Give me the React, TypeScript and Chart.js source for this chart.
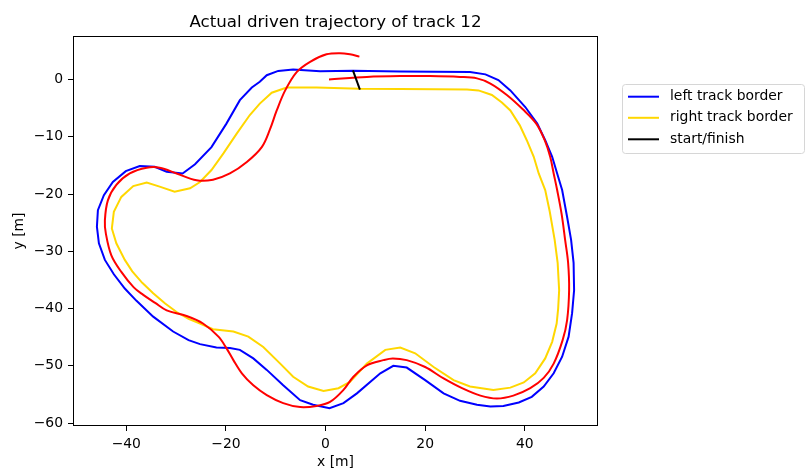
import React, { useEffect, useRef } from "react";
import { Chart, registerables } from "chart.js";

Chart.register(...registerables);

const TITLE = "Actual driven trajectory of track 12";
const X_LABEL = "x [m]";
const Y_LABEL = "y [m]";
const X_TICKS = [-40, -20, 0, 20, 40];
const Y_TICKS = [0, -10, -20, -30, -40, -50, -60];
const X_MIN = -50.7;
const X_MAX = 54.7;
const Y_MIN = -60.5;
const Y_MAX = 7.6;

const LEGEND_LABELS = ["left track border", "right track border", "start/finish"];

const LEFT_BORDER: [number, number][] = [
  [5.5, 1.55], [15, 1.4], [22, 1.35], [29, 1.3], [32.1, 0.9], [34.7, -0.1],
  [37.1, -1.9], [40.1, -4.8], [42.5, -7.7], [44.1, -10.6], [45.5, -13.5],
  [46.5, -16.4], [47.5, -19.3], [48.5, -24], [49.3, -28.0], [49.8, -32], [49.9, -36.8],
  [49.5, -40.8], [48.8, -44.9], [47.5, -48.4], [45.8, -51.3], [43.8, -53.6], [41.4, -55.4],
  [38.8, -56.4], [35.7, -57.0], [33.1, -57.1], [30.4, -56.8], [27, -56.1],
  [23.7, -54.8], [20, -52.5], [16.3, -50.3], [13.6, -50.0], [11, -51.3],
  [6.3, -54.8], [3.6, -56.5], [0.8, -57.4], [-2.5, -56.8], [-5.1, -56.0],
  [-8.5, -53.4], [-11.8, -50.7], [-14.5, -48.7], [-17.2, -47.2], [-19.2, -46.9],
  [-21.9, -46.8], [-25.2, -46.2], [-27.5, -45.5], [-30.6, -44.0], [-34.6, -41.4],
  [-38.0, -38.6], [-40.3, -36.5], [-42.5, -34.0], [-44.3, -31.5], [-45.5, -28.6],
  [-45.9, -25.7], [-45.7, -22.8], [-44.5, -20.2], [-42.7, -17.9], [-40.1, -16.0],
  [-37.3, -15.1], [-34.3, -15.25], [-31.9, -16.1], [-28.7, -16.4], [-26.2, -14.8],
  [-22.9, -11.8], [-19.9, -7.7], [-17.2, -3.6], [-14.8, -1.4], [-13.2, -0.4],
  [-11.8, 0.75], [-9.5, 1.5], [-6.5, 1.75], [-1.1, 1.45], [5.5, 1.55],
];

const RIGHT_BORDER: [number, number][] = [
  [6.9, -1.6], [15, -1.65], [22, -1.7], [28.4, -1.75], [30.7, -1.9], [33.4, -2.7],
  [35.4, -4.0], [37.1, -5.4], [39.0, -8.0], [40.4, -10.6], [41.8, -13.5],
  [42.8, -16.4], [44.1, -19.3], [45.0, -23], [46.0, -28.0], [46.6, -32], [46.9, -36.8],
  [46.7, -40], [46.4, -42.6], [45.5, -45.8], [44.1, -48.7], [42.1, -51.3], [39.8, -52.9],
  [37.1, -53.8], [33.7, -54.2], [29, -53.6], [25.7, -52.5], [21.7, -50.2],
  [18, -47.8], [15, -46.8], [12, -47.2], [8.3, -49.6], [4.9, -52.8],
  [2.6, -53.9], [-0.4, -54.4], [-3.5, -53.6], [-6.5, -51.9], [-9.1, -49.6],
  [-12.5, -46.7], [-15.5, -44.9], [-18.5, -44.0], [-22.6, -43.6], [-25.2, -42.6],
  [-27.5, -41.8], [-29.9, -40.6], [-32.2, -39.1], [-34.6, -37.3], [-36.8, -35.5],
  [-38.8, -33.5], [-40.3, -31.5], [-42, -28.6], [-42.9, -26.0], [-42.5, -23.1],
  [-41, -20.5], [-38.6, -18.6], [-35.9, -18.0], [-33.3, -18.7], [-30.3, -19.6],
  [-27.2, -19.0], [-25.2, -17.9], [-22.9, -15.8], [-20.5, -12.9], [-17.8, -9.4],
  [-15.2, -6.2], [-13.2, -4.2], [-10.8, -2.3], [-7.8, -1.4], [-1.8, -1.4], [6.9, -1.6],
];

const START_FINISH: [number, number][] = [
  [5.5, 1.6], [6.9, -1.75],
];

const TRAJECTORY: [number, number][] = [
  [0.7, 0.0], [8.3, 0.45], [15, 0.6], [21, 0.6], [27, 0.45], [30.4, 0.2],
  [33.1, -0.7], [36.4, -2.7], [39.6, -5.2], [42.3, -7.7], [44.0, -10.6],
  [45.1, -13.5], [45.8, -16.4], [46.5, -19.3], [47.4, -23.5], [48.1, -28], [48.7, -32],
  [48.9, -36.8], [48.5, -42], [47.6, -45.5], [45.8, -49.6], [43.8, -52.1], [41.1, -53.9],
  [37.7, -55.2], [34.4, -55.7], [31.1, -55.2], [27.4, -53.9], [23.7, -52.2],
  [20, -50.2], [16.3, -49], [13.5, -48.7], [11.6, -49.0], [8.3, -49.9],
  [5.6, -51.9], [3.6, -54.2], [0.9, -56.3], [-1.8, -57.0], [-5.1, -57.2],
  [-8.5, -56.5], [-11.8, -55.1], [-14.5, -53.4], [-16.8, -51.3], [-18.5, -49.0],
  [-19.9, -46.9], [-21.5, -44.9], [-24.6, -42.6], [-27.9, -41.3], [-31.9, -40.3],
  [-34.2, -39.0], [-36.6, -37.6], [-38.5, -36.3], [-41, -33.6], [-43, -30.7],
  [-44.1, -26.9], [-44.3, -24.6], [-43.7, -21.1], [-42, -18.4], [-39.3, -16.4],
  [-35.9, -15.4], [-33.3, -15.4], [-29.9, -16.4], [-25.9, -17.6], [-22.6, -17.5],
  [-19.2, -16.4], [-15.8, -14.4], [-12.8, -11.8], [-11.2, -8.8], [-9.8, -5.4],
  [-8.1, -1.9], [-5.8, 1.3], [-3.1, 3.1], [0.2, 4.4], [2.9, 4.6], [4.9, 4.4], [6.8, 4.0],
];

const FONT = '"DejaVu Sans", sans-serif';
const toPts = (arr: [number, number][]) => arr.map(([x, y]) => ({ x, y }));
const fmt = (v: number) => (v < 0 ? "\u2212" + Math.abs(v) : String(v));

const decorPlugin = {
  id: "decor",
  afterDatasetsDraw(chart: any) {
    const { ctx, chartArea: a } = chart;
    ctx.save();
    ctx.strokeStyle = "#000";
    ctx.lineWidth = 1;
    const l = Math.round(a.left) + 0.5;
    const t = Math.round(a.top) + 0.5;
    const r = Math.round(a.right) - 0.5;
    const b = Math.round(a.bottom) - 0.5;
    ctx.strokeRect(l, t, r - l, b - t);
    ctx.restore();
  },
  afterDraw(chart: any) {
    const { ctx, chartArea: a } = chart;
    ctx.save();
    ctx.fillStyle = "#000";
    ctx.font = `16.67px ${FONT}`;
    ctx.textAlign = "center";
    ctx.textBaseline = "alphabetic";
    ctx.fillText(TITLE, (a.left + a.right) / 2, 27);

    const bx = 622.5, by = 84.5, bw = 182, bh = 69, rad = 3;
    ctx.beginPath();
    ctx.moveTo(bx + rad, by);
    ctx.lineTo(bx + bw - rad, by);
    ctx.quadraticCurveTo(bx + bw, by, bx + bw, by + rad);
    ctx.lineTo(bx + bw, by + bh - rad);
    ctx.quadraticCurveTo(bx + bw, by + bh, bx + bw - rad, by + bh);
    ctx.lineTo(bx + rad, by + bh);
    ctx.quadraticCurveTo(bx, by + bh, bx, by + bh - rad);
    ctx.lineTo(bx, by + rad);
    ctx.quadraticCurveTo(bx, by, bx + rad, by);
    ctx.closePath();
    ctx.fillStyle = "rgba(255,255,255,0.8)";
    ctx.fill();
    ctx.strokeStyle = "#d6d6d6";
    ctx.lineWidth = 1;
    ctx.stroke();

    const rows = [96.7, 117.8, 139.3];
    ctx.font = `13.9px ${FONT}`;
    ctx.textAlign = "left";
    ctx.textBaseline = "middle";
    LEGEND_LABELS.forEach((lab, i) => {
      const ds = chart.data.datasets.find((d: any) => d.label === lab);
      if (!ds) return;
      const y = rows[i];
      ctx.beginPath();
      ctx.strokeStyle = ds.borderColor;
      ctx.lineWidth = 2;
      ctx.moveTo(628, y);
      ctx.lineTo(659, y);
      ctx.stroke();
      ctx.fillStyle = "#000";
      ctx.fillText(lab, 670, y);
    });
    ctx.restore();
  },
};

export default function App() {
  const ref = useRef<HTMLCanvasElement>(null);

  useEffect(() => {
    if (!ref.current) return;
    const tickFont = { family: FONT, size: 13.9 };
    const chart = new Chart(ref.current, {
      type: "scatter",
      data: {
        datasets: [
          {
            label: "start/finish",
            data: toPts(START_FINISH),
            borderColor: "#000000",
            backgroundColor: "#000000",
            showLine: true,
            pointRadius: 0,
            borderWidth: 2,
            order: 0,
          },
          {
            label: "trajectory",
            data: toPts(TRAJECTORY),
            borderColor: "#ff0000",
            backgroundColor: "#ff0000",
            showLine: true,
            pointRadius: 0,
            borderWidth: 2,
            tension: 0.35,
            order: 1,
          },
          {
            label: "right track border",
            data: toPts(RIGHT_BORDER),
            borderColor: "#ffd700",
            backgroundColor: "#ffd700",
            showLine: true,
            pointRadius: 0,
            borderWidth: 2,
            order: 2,
          },
          {
            label: "left track border",
            data: toPts(LEFT_BORDER),
            borderColor: "#0000ff",
            backgroundColor: "#0000ff",
            showLine: true,
            pointRadius: 0,
            borderWidth: 2,
            order: 3,
          },
        ],
      },
      options: {
        animation: false,
        responsive: false,
        devicePixelRatio: 1,
        layout: { padding: { left: 0, top: 36, right: 207, bottom: 0 } },
        plugins: {
          legend: { display: false },
          tooltip: { enabled: false },
          title: { display: false },
        },
        scales: {
          x: {
            type: "linear",
            min: X_MIN,
            max: X_MAX,
            afterBuildTicks: (s: any) => {
              s.ticks = X_TICKS.map((v) => ({ value: v }));
            },
            afterFit: (s: any) => {
              s.height = 47;
            },
            grid: {
              display: true,
              drawOnChartArea: false,
              drawTicks: true,
              tickLength: 5,
              tickColor: "#000",
              tickWidth: 1,
            },
            border: { display: false },
            ticks: {
              color: "#000",
              font: tickFont,
              padding: 5,
              maxRotation: 0,
              autoSkip: false,
              callback: (v: any) => fmt(Number(v)),
            },
            title: {
              display: true,
              text: X_LABEL,
              color: "#000",
              font: tickFont,
              padding: { top: 0, bottom: 2 },
            },
          },
          y: {
            type: "linear",
            min: Y_MIN,
            max: Y_MAX,
            afterBuildTicks: (s: any) => {
              s.ticks = Y_TICKS.map((v) => ({ value: v }));
            },
            afterFit: (s: any) => {
              s.width = 73;
            },
            grid: {
              display: true,
              drawOnChartArea: false,
              drawTicks: true,
              tickLength: 5,
              tickColor: "#000",
              tickWidth: 1,
            },
            border: { display: false },
            ticks: {
              color: "#000",
              font: tickFont,
              padding: 5,
              autoSkip: false,
              callback: (v: any) => fmt(Number(v)),
            },
            title: {
              display: true,
              text: Y_LABEL,
              color: "#000",
              font: tickFont,
              padding: { top: 11.5, bottom: 0 },
            },
          },
        },
      },
      plugins: [decorPlugin],
    });
    return () => chart.destroy();
  }, []);

  return (
    <div style={{ position: "fixed", left: 0, top: 0, width: 805, height: 473, background: "#fff" }}>
      <canvas ref={ref} width={805} height={473} style={{ width: 805, height: 473, display: "block" }} />
    </div>
  );
}
